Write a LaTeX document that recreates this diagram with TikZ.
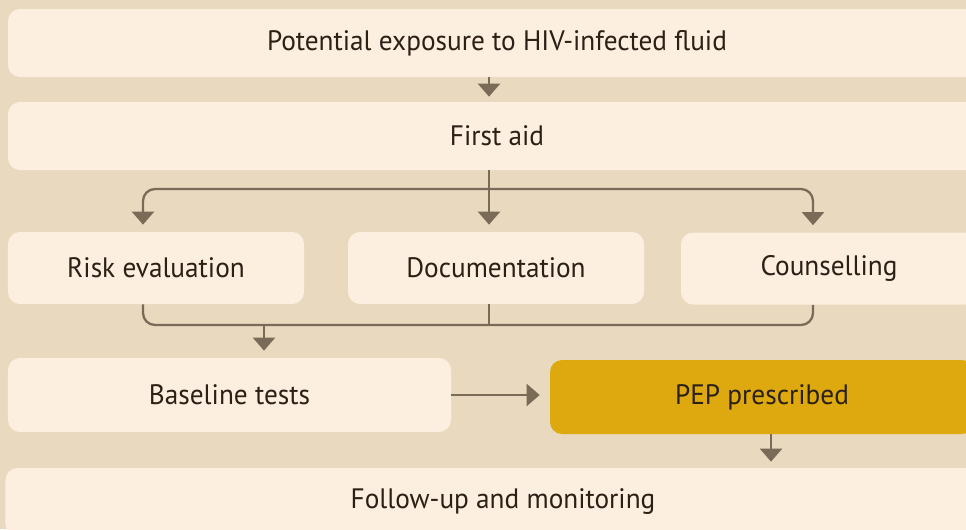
\documentclass[tikz,border=0pt]{standalone}
\usepackage{fontspec}
\setmainfont[FakeStretch=0.97]{PT Sans}
\usepackage{tikz}
\usetikzlibrary{arrows.meta, positioning, calc}
\definecolor{bgtan}{RGB}{233,217,191}
\definecolor{boxcream}{RGB}{252,239,223}
\definecolor{pepgold}{RGB}{222,169,14}
\definecolor{linebrown}{RGB}{122,106,88}
\definecolor{txtdark}{RGB}{43,32,22}
\tikzset{
  stepbox/.style={rectangle, fill=boxcream, rounded corners=0.24cm,
    minimum height=1.44cm, font=\fontsize{16}{19}\selectfont,
    text=txtdark, inner sep=0pt},
  widebox/.style={stepbox, minimum width=19.56cm, minimum height=1.36cm},
  colbox/.style={stepbox, minimum width=5.92cm},
  pepbox/.style={stepbox, fill=pepgold, minimum width=8.48cm, minimum height=1.48cm},
  arrow/.style={-{Triangle[width=0.44cm, length=0.26cm]}, line width=1.3pt, color=linebrown},
  line/.style={line width=1.3pt, color=linebrown}
}

\begin{document}
\begin{tikzpicture}
  \useasboundingbox[fill=bgtan] (0,0) rectangle (19.32,10.58);
  \begin{scope}
  \clip (0,0) rectangle (19.32,10.58);
  % boxes
  \node[widebox] (expo) at (9.94,9.72) {Potential exposure to HIV-infected fluid};
  \node[widebox] (aid) at (9.94,7.86) {First aid};
  \node[colbox] (risk) at (3.12,5.22) {Risk evaluation};
  \node[colbox] (doc) at (9.92,5.22) {Documentation};
  \node[colbox] (couns) at (16.58,5.21) {Counselling};
  \node[stepbox, minimum width=8.86cm, minimum height=1.48cm] (base) at (4.59,2.68) {Baseline tests};
  \node[pepbox] (pep) at (15.24,2.64) {PEP prescribed};
  \node[widebox, minimum width=19.9cm] (follow) at (10.06,0.54) {Follow-up and monitoring};
  \end{scope}
  % connector columns
  \coordinate (colL) at (2.86,0);
  \coordinate (colM) at (9.78,0);
  \coordinate (colR) at (16.26,0);
  \coordinate (colP) at (15.42,0);
  \coordinate (split) at (9.78,6.8);
  \coordinate (merge) at (5.28,4.08);
  % connectors
  \draw[arrow] (expo.south -| colM) -- ([yshift=0.1cm]aid.north -| colM);
  \draw[arrow] (aid.south -| colM) -- ([yshift=0.14cm]doc.north -| colM);
  \draw[arrow, rounded corners=0.24cm] (split) -| ([yshift=0.14cm]risk.north -| colL);
  \draw[arrow, rounded corners=0.24cm] (split) -| ([yshift=0.14cm]couns.north -| colR);
  \draw[line, rounded corners=0.24cm] (risk.south -| colL) |- (merge) -| (couns.south -| colR);
  \draw[line] (doc.south -| colM) -- (colM |- merge);
  \draw[arrow] (merge) -- ([yshift=0.14cm]base.north -| merge);
  \draw[arrow] (base.east) -- ([xshift=-0.2cm]base.east -| pep.west);
  \draw[arrow] (pep.south -| colP) -- ([yshift=0.12cm]follow.north -| colP);
\end{tikzpicture}
\end{document}
